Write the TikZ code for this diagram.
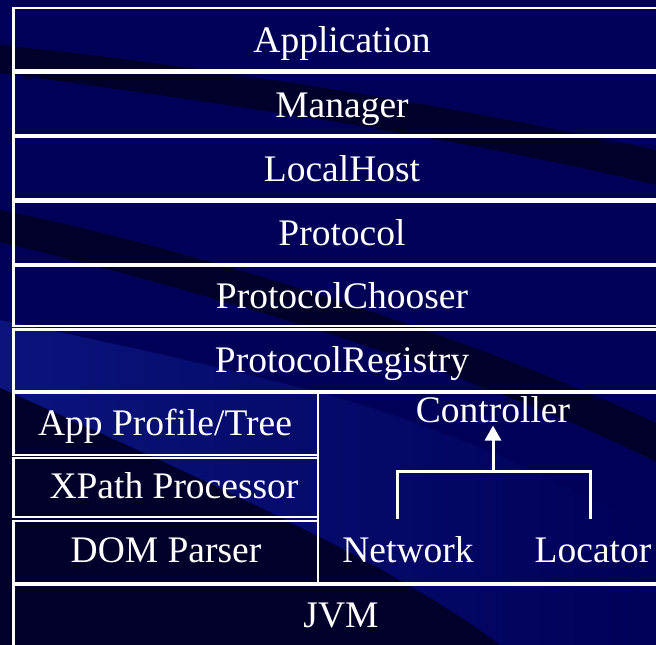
\documentclass[tikz,border=0pt]{standalone}
\usepackage{fontspec}
\setmainfont{Liberation Serif}
\usetikzlibrary{arrows.meta}
\definecolor{navy}{HTML}{000058}
\definecolor{darkband}{HTML}{00002A}
\definecolor{lightband}{HTML}{0A147C}
\begin{document}
\begin{tikzpicture}[x=1pt,y=-1pt,
  box/.style={draw=white,line width=2.2pt},
  lbl/.style={text=white,anchor=base,inner sep=0pt,font=\fontsize{37.5}{40}\selectfont},
  link/.style={draw=white,line width=3pt}]
\useasboundingbox (0,0) rectangle (656,645);
\begin{scope}
\clip (0,0) rectangle (656,645);
\fill[navy] (0,0) rectangle (656,645);
\shade[left color=lightband, right color=navy] (0,320) .. controls (150,350) and (250,375) .. (330,395) .. controls (450,430) and (560,480) .. (656,530) -- (656,645) -- (500,645) .. controls (400,570) and (250,500) .. (0,388) -- cycle;
\fill[darkband] (0,388) .. controls (250,500) and (400,570) .. (500,645) -- (0,645) -- cycle;
\fill[darkband] (0,45) .. controls (200,65) and (450,105) .. (656,150) -- (656,185) .. controls (450,135) and (200,100) .. (0,73) -- cycle;
\fill[darkband] (0,210) .. controls (200,250) and (480,340) .. (656,423) -- (656,462) .. controls (480,372) and (200,290) .. (0,242) -- cycle;
% boxes
\draw[box] (13.5,8) rectangle (670,70.5);
\draw[box] (13.5,72.5) rectangle (670,135);
\draw[box] (13.5,137) rectangle (670,199);
\draw[box] (13.5,201.5) rectangle (670,264);
\draw[box] (13.5,266) rectangle (670,326);
\draw[box] (13.5,329.5) rectangle (670,391.5);
\draw[box] (13.5,392.5) rectangle (318,455);
\draw[box] (13.5,458) rectangle (318,517);
\draw[box] (13.5,521) rectangle (318,583);
\draw[box] (318,392.5) rectangle (670,583);
\draw[box] (13.5,584.5) rectangle (670,660);
\end{scope}
% labels
\node[lbl] (app) at (342,52) {Application};
\node[lbl] (mgr) at (342,117) {Manager};
\node[lbl] (lh) at (342,181) {LocalHost};
\node[lbl] (prot) at (342,245) {Protocol};
\node[lbl] (pc) at (342,308) {ProtocolChooser};
\node[lbl] (pr) at (342,372) {ProtocolRegistry};
\node[lbl] (apt) at (165,435) {App Profile/Tree};
\node[lbl] (xp) at (174,498) {XPath Processor};
\node[lbl] (dom) at (166,562) {DOM Parser};
\node[lbl] (ctrl) at (493,422) {Controller};
\node[lbl] (net) at (408,562) {Network};
\node[lbl] (loc) at (593,562) {Locator};
\node[lbl] (jvm) at (341,627) {JVM};
% bracket and arrow
\coordinate (bl) at (397,519);
\coordinate (br) at (590,519);
\coordinate (bj) at (493,471);
\draw[link] (bl) |- (bj) -| (br);
\draw[link,-{Triangle[width=16pt,length=15pt]}] (bj) -- ([yshift=-3pt]ctrl.south);
\end{tikzpicture}
\end{document}
